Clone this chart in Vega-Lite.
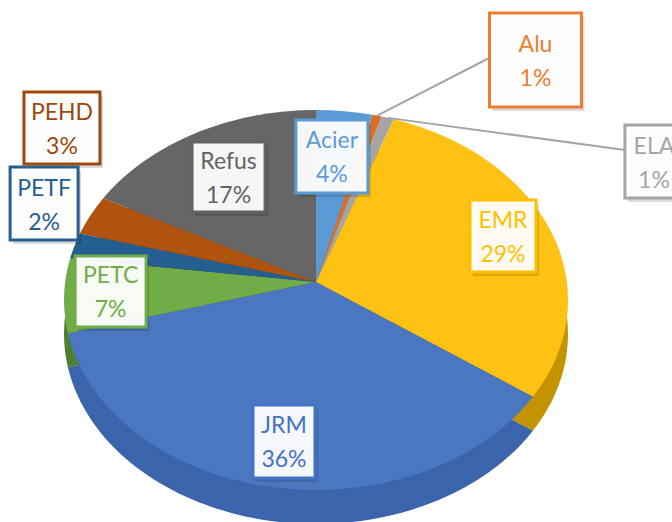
{"$schema":"https://vega.github.io/schema/vega-lite/v6.json","width":672,"height":522,"padding":0,"autosize":{"type":"none"},"background":"white","config":{"view":{"stroke":null}},"data":{"values":[{"order":1,"name":"Acier","value":4,"apparent":3.6},{"order":2,"name":"Alu","value":1,"apparent":0.6},{"order":3,"name":"ELA","value":1,"apparent":0.8},{"order":4,"name":"EMR","value":29,"apparent":28.5},{"order":5,"name":"JRM","value":36,"apparent":38.7},{"order":6,"name":"PETC","value":7,"apparent":6.3},{"order":7,"name":"PETF","value":2,"apparent":2.2},{"order":8,"name":"PEHD","value":3,"apparent":3.3},{"order":9,"name":"Refus","value":17,"apparent":16.0}]},"transform":[{"window":[{"op":"sum","field":"apparent","as":"cum"}],"sort":[{"field":"order","order":"ascending"}],"frame":[null,0]},{"calculate":"(datum.cum-datum.apparent)*PI/50","as":"a0"},{"calculate":"datum.cum*PI/50","as":"a1"},{"calculate":"'M 0 0 L '+(252*sin(datum.a0))+' '+(18-190*cos(datum.a0))+' A 252 190 0 0 1 '+(252*sin(datum.a1))+' '+(18-190*cos(datum.a1))+' Z'","as":"path"},{"calculate":"{'Acier':[0.063,0.661,36,36.5],'Alu':[0.871,1.168,46,47],'ELA':[1.341,0.634,29,36.5],'EMR':[0.742,0.242,33,36],'JRM':[-0.127,-0.839,31,36.5],'PETC':[-0.815,-0.05,35.5,35.5],'PETF':[-1.079,0.413,34,36.5],'PEHD':[-1.008,0.811,38,36],'Refus':[-0.347,0.553,36.5,35]}[datum.name]","as":"L"},{"calculate":"datum.L[0]","as":"lx"},{"calculate":"datum.L[1]","as":"ly"},{"calculate":"'M '+(-datum.L[2])+' '+(-datum.L[3])+' H '+datum.L[2]+' V '+datum.L[3]+' H '+(-datum.L[2])+' Z'","as":"box"},{"calculate":"datum.name+'\\n'+datum.value+'%'","as":"label"},{"calculate":"0","as":"ox"},{"calculate":"0","as":"oy"},{"calculate":"sin((datum.a0+datum.a1)/2)","as":"rx"},{"calculate":"cos((datum.a0+datum.a1)/2)-0.0947","as":"ry"},{"calculate":"datum.name=='Alu'?0.687:1.226","as":"tx"},{"calculate":"datum.name=='Alu'?1.179:0.695","as":"ty"}],"layer":[{"mark":{"type":"point","filled":true,"opacity":1,"strokeWidth":0},"encoding":{"x":{"field":"ox","type":"quantitative","axis":null,"scale":{"domain":[-1.25397,1.4127],"nice":false,"zero":false}},"y":{"field":"oy","type":"quantitative","axis":null,"scale":{"domain":[-1.26316,1.48421],"nice":false,"zero":false}},"shape":{"field":"path","type":"nominal","scale":null,"legend":null},"size":{"value":4},"yOffset":{"value":34},"color":{"field":"name","type":"nominal","legend":null,"scale":{"domain":["Acier","Alu","ELA","EMR","JRM","PETC","PETF","PEHD","Refus"],"range":["#3f7fb8","#b85d20","#7d7d7d","#c49400","#3a64ab","#4f7f31","#1b4569","#6e320a","#444444"]}}}},{"mark":{"type":"point","filled":true,"opacity":1,"strokeWidth":0},"encoding":{"x":{"field":"ox","type":"quantitative","axis":null},"y":{"field":"oy","type":"quantitative","axis":null},"shape":{"field":"path","type":"nominal","scale":null,"legend":null},"size":{"value":4},"color":{"field":"name","type":"nominal","legend":null,"scale":{"domain":["Acier","Alu","ELA","EMR","JRM","PETC","PETF","PEHD","Refus"],"range":["#5b9bd5","#d9702a","#a5a5a5","#fec214","#4a77c0","#70ad47","#255e91","#b0530f","#666666"]}}}},{"transform":[{"filter":"datum.name=='Alu'||datum.name=='ELA'"}],"mark":{"type":"rule","color":"#a5a5a5","strokeWidth":2},"encoding":{"x":{"field":"rx","type":"quantitative","axis":null},"y":{"field":"ry","type":"quantitative","axis":null},"x2":{"field":"tx"},"y2":{"field":"ty"}}},{"mark":{"type":"point","filled":true,"opacity":0.14,"fill":"#000000","strokeWidth":0},"encoding":{"x":{"field":"lx","type":"quantitative","axis":null},"y":{"field":"ly","type":"quantitative","axis":null},"xOffset":{"value":3},"yOffset":{"value":4},"shape":{"field":"box","type":"nominal","scale":null,"legend":null},"size":{"value":4}}},{"mark":{"type":"point","filled":true,"opacity":1,"fill":"#ffffff","fillOpacity":0.95,"strokeWidth":3,"strokeOpacity":1},"encoding":{"x":{"field":"lx","type":"quantitative","axis":null},"y":{"field":"ly","type":"quantitative","axis":null},"shape":{"field":"box","type":"nominal","scale":null,"legend":null},"size":{"value":4},"stroke":{"field":"name","type":"nominal","legend":null,"scale":{"domain":["Acier","Alu","ELA","EMR","JRM","PETC","PETF","PEHD","Refus"],"range":["#5b9bd5","#ed7d31","#a5a5a5","#ffc000","#4472c4","#70ad47","#255e91","#9e480e","#636363"]}}}},{"mark":{"type":"text","font":"Lato","fontSize":23,"lineBreak":"\n","lineHeight":34,"align":"center","baseline":"middle","dy":-15},"encoding":{"x":{"field":"lx","type":"quantitative","axis":null},"y":{"field":"ly","type":"quantitative","axis":null},"text":{"field":"label"},"color":{"field":"name","type":"nominal","legend":null,"scale":{"domain":["Acier","Alu","ELA","EMR","JRM","PETC","PETF","PEHD","Refus"],"range":["#5b9bd5","#ed7d31","#a5a5a5","#ffc000","#4472c4","#70ad47","#255e91","#9e480e","#636363"]}}}}],"resolve":{"scale":{"color":"independent"}}}
